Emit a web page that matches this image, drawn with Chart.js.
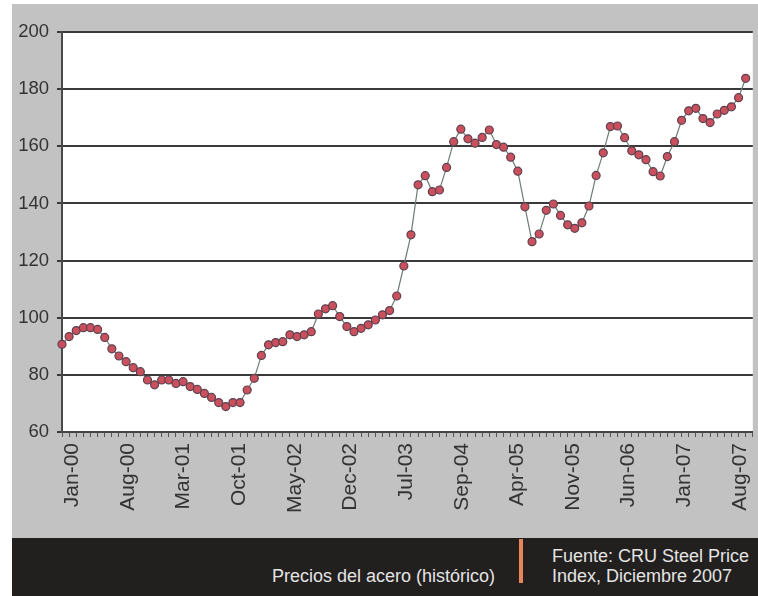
<!DOCTYPE html>
<html><head><meta charset="utf-8">
<script src="https://cdn.jsdelivr.net/npm/chart.js@4.4.1/dist/chart.umd.min.js"></script>
<style>
html,body{margin:0;padding:0;background:#fff;width:758px;height:596px;overflow:hidden;font-family:"Liberation Sans",Arial,sans-serif}
#panel{position:absolute;left:12px;top:4px;width:746px;height:534px;background:#c2c2c2}
#foot{position:absolute;left:12px;top:538px;width:746px;height:58px;background:#221f1f}
#c{position:absolute;left:0;top:0}
.t{position:absolute;color:#e4e4e4;font-size:18px;line-height:19.5px;white-space:nowrap}
#bar{position:absolute;left:507px;top:1px;width:4px;height:44px;background:#e8855d}
</style></head>
<body>
<div id="panel"><canvas id="c" width="746" height="534"></canvas></div>
<div id="foot">
  <div class="t" style="right:263px;top:29px;text-align:right">Precios del acero (histórico)</div>
  <div id="bar"></div>
  <div class="t" style="left:540px;top:9px">Fuente: CRU Steel Price<br>Index, Diciembre 2007</div>
</div>
<script>
const months = [
 'Jan-00','Feb-00','Mar-00','Apr-00','May-00','Jun-00','Jul-00','Aug-00','Sep-00','Oct-00','Nov-00','Dec-00',
 'Jan-01','Feb-01','Mar-01','Apr-01','May-01','Jun-01','Jul-01','Aug-01','Sep-01','Oct-01','Nov-01','Dec-01',
 'Jan-02','Feb-02','Mar-02','Apr-02','May-02','Jun-02','Jul-02','Aug-02','Sep-02','Oct-02','Nov-02','Dec-02',
 'Jan-03','Feb-03','Mar-03','Apr-03','May-03','Jun-03','Jul-03','Aug-03','Sep-03','Oct-03','Nov-03','Dec-03',
 'Jan-04','Feb-04','Mar-04','Apr-04','May-04','Jun-04','Jul-04','Aug-04','Sep-04','Oct-04','Nov-04','Dec-04',
 'Jan-05','Feb-05','Mar-05','Apr-05','May-05','Jun-05','Jul-05','Aug-05','Sep-05','Oct-05','Nov-05','Dec-05',
 'Jan-06','Feb-06','Mar-06','Apr-06','May-06','Jun-06','Jul-06','Aug-06','Sep-06','Oct-06','Nov-06','Dec-06',
 'Jan-07','Feb-07','Mar-07','Apr-07','May-07','Jun-07','Jul-07','Aug-07','Sep-07','Oct-07','Nov-07','Dec-07',
 'Jan-08','Feb-08'
];
const steelIndex = [
 90.7, 93.4, 95.5, 96.5, 96.5, 95.9, 93.1, 89.1, 86.6, 84.6, 82.5, 81.1,
 78.2, 76.5, 78.2, 78.2, 77.0, 77.6, 75.9, 74.9, 73.5, 72.1, 70.3, 68.9,
 70.3, 70.3, 74.7, 78.8, 86.8, 90.5, 91.3, 91.6, 94.0, 93.4, 94.0, 95.1,
 101.3, 103.1, 104.2, 100.4, 96.9, 95.1, 96.3, 97.5, 99.2, 101.0, 102.5, 107.6,
 118.1, 129.0, 146.5, 149.7, 144.1, 144.7, 152.6, 161.6, 166.0, 162.6, 161.1, 163.1,
 165.7, 160.6, 159.7, 156.2, 151.3, 138.8, 126.6, 129.3, 137.6, 139.8, 135.8, 132.5,
 131.3, 133.2, 139.1, 149.8, 157.7, 166.9, 167.1, 163.0, 158.4, 157.0, 155.3, 151.1,
 149.6, 156.4, 161.6, 169.1, 172.4, 173.3, 169.7, 168.3, 171.3, 172.6, 173.8, 177.0,
 183.8
];
const tickLabels = ['Jan-00','Aug-00','Mar-01','Oct-01','May-02','Dec-02','Jul-03','Sep-04','Apr-05','Nov-05','Jun-06','Jan-07','Aug-07'];
const yMin = 60, yMax = 200, yStep = 20;

Chart.defaults.font.family = '"Liberation Sans", Arial, sans-serif';

const plotBg = {
  id: 'plotBg',
  beforeDraw(chart) {
    const {ctx, chartArea: a} = chart;
    ctx.save();
    ctx.fillStyle = '#ffffff';
    ctx.fillRect(a.left, a.top, a.right - a.left, a.bottom - a.top);
    ctx.restore();
  }
};

new Chart(document.getElementById('c'), {
  type: 'line',
  data: {
    labels: months,
    datasets: [{
      data: steelIndex,
      borderColor: '#6e7d74',
      borderWidth: 1.2,
      tension: 0,
      pointRadius: 4,
      pointBackgroundColor: '#c9505c',
      pointBorderColor: '#5b4150',
      pointBorderWidth: 1.2,
      clip: false
    }]
  },
  options: {
    responsive: false,
    animation: false,
    layout: {padding: {top: 28, right: 4, left: 0, bottom: 0}},
    plugins: {legend: {display: false}, tooltip: {enabled: false}},
    scales: {
      x: {
        type: 'category',
        position: 'bottom',
        weight: 0,
        ticks: {display: false},
        grid: {drawOnChartArea: false, drawTicks: true, tickLength: 5, color: '#555', lineWidth: 1},
        border: {display: true, color: '#444', width: 2},
        afterFit(s) { s.height = 5; s.paddingLeft = 0; s.paddingRight = 0; }
      },
      x2: {
        type: 'linear',
        position: 'bottom',
        weight: 1,
        min: -0.1886,
        max: 12.235,
        grid: {display: false, drawTicks: false},
        border: {display: false},
        ticks: {
          stepSize: 1,
          includeBounds: false,
          autoSkip: false,
          minRotation: 90,
          maxRotation: 90,
          padding: 6,
          color: '#333',
          font: {size: 21},
          callback: (v) => Number.isInteger(v) && tickLabels[v] ? tickLabels[v] : ''
        },
        afterFit(s) { s.height = 101; s.paddingLeft = 0; s.paddingRight = 0; }
      },
      y: {
        min: yMin,
        max: yMax,
        ticks: {stepSize: yStep, color: '#333', padding: 8, font: {size: 18.5}},
        grid: {color: '#3a3a3a', lineWidth: 2, tickLength: 5},
        border: {display: true, color: '#4a4a4a', width: 2},
        afterFit(s) { s.width = 50; }
      }
    }
  },
  plugins: [plotBg]
});
</script>
</body></html>
